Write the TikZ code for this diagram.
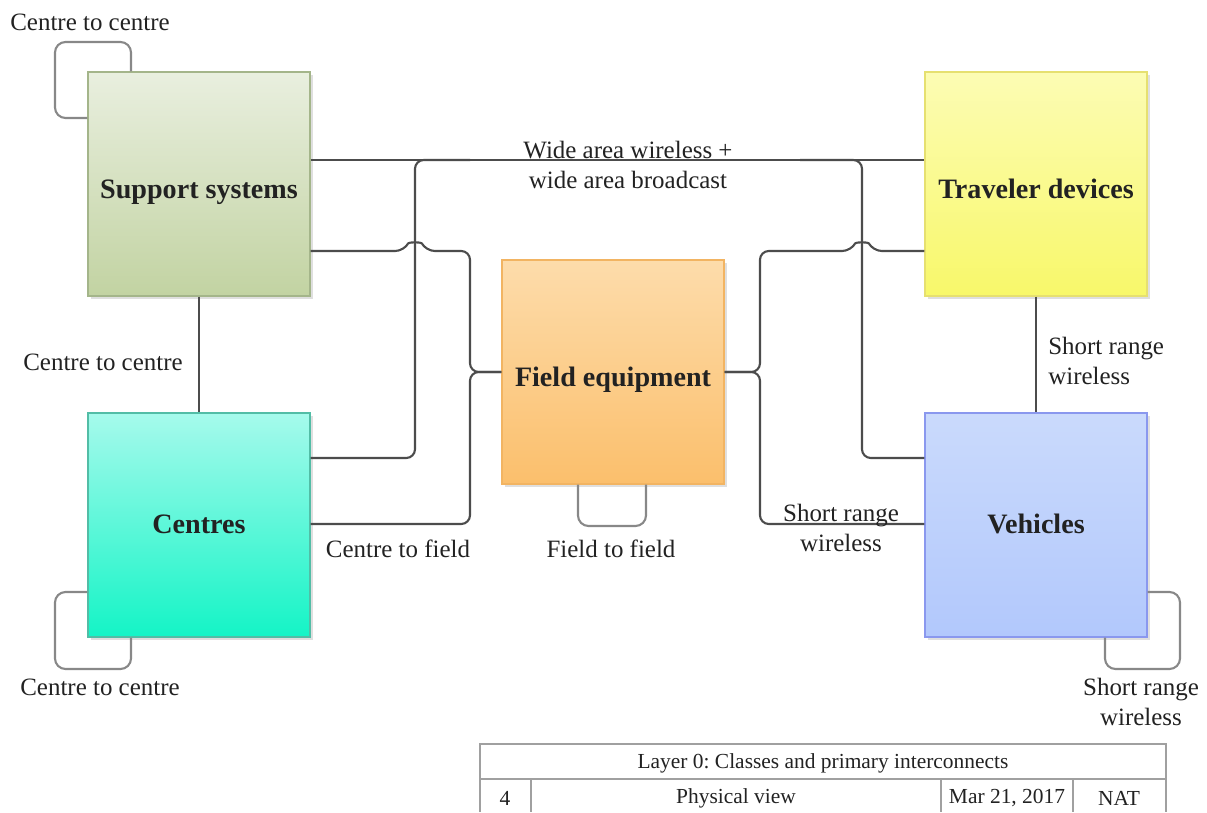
\documentclass[tikz,border=0pt]{standalone}
\usepackage{fontspec}
\setmainfont{Liberation Serif}
\usepackage{tikz}
\usetikzlibrary{positioning,calc,shadows}
\frenchspacing
\definecolor{linkgray}{HTML}{4C4C4C}
\definecolor{loopgray}{HTML}{888888}
\definecolor{tblgray}{HTML}{A0A0A0}
\definecolor{txt}{HTML}{222222}
\definecolor{suptop}{HTML}{E9EFDF}\definecolor{supbot}{HTML}{C2D3A2}\definecolor{supline}{HTML}{A4B58A}
\definecolor{ctrtop}{HTML}{A6FAEC}\definecolor{ctrbot}{HTML}{14F4C6}\definecolor{ctrline}{HTML}{52BDA6}
\definecolor{fldtop}{HTML}{FDDCAB}\definecolor{fldbot}{HTML}{FBBF6C}\definecolor{fldline}{HTML}{F2B462}
\definecolor{trvtop}{HTML}{FCFCB4}\definecolor{trvbot}{HTML}{F8F86A}\definecolor{trvline}{HTML}{E6E070}
\definecolor{vehtop}{HTML}{CADAFC}\definecolor{vehbot}{HTML}{B2C8FC}\definecolor{vehline}{HTML}{8A98EE}
\tikzstyle{box} = [draw, minimum width=4.44cm, minimum height=4.48cm, line width=0.8pt, font=\fontsize{16}{19}\selectfont\bfseries, text=txt, text height=16pt, text depth=0pt, drop shadow={shadow xshift=1.6pt, shadow yshift=-1.6pt, opacity=0.25}]
\tikzstyle{link} = [line width=1.2pt, draw=linkgray, rounded corners=5pt]
\tikzstyle{selfloop} = [line width=1.2pt, draw=loopgray, rounded corners=6pt]

\begin{document}
\begin{tikzpicture}[x=0.02cm, y=-0.02cm,
		lbl/.style = {font=\fontsize{14.2}{17}\selectfont, text=txt, align=center, inner sep=0pt},
		cell/.style = {font=\fontsize{12.2}{14}\selectfont, text=txt, inner sep=0pt},
		]
		\fill[white] (0,0) rectangle (1207,812);
		\useasboundingbox (0,0) rectangle (1207,812);
		% classes
		\node[box, top color=suptop, bottom color=supbot, draw=supline] (sup) at (199,184) {Support systems};
		\node[box, top color=ctrtop, bottom color=ctrbot, draw=ctrline, text height=9.5pt] (ctr) at (199,525) {Centres};
		\node[box, top color=fldtop, bottom color=fldbot, draw=fldline] (fld) at (613,372) {Field equipment};
		\node[box, top color=trvtop, bottom color=trvbot, draw=trvline] (trv) at (1036,184) {Traveler devices};
		\node[box, top color=vehtop, bottom color=vehbot, draw=vehline, text height=9.5pt] (veh) at (1036,525) {Vehicles};
		% interconnects
		\draw[link] (sup.east |- 0,160) -- (trv.west |- 0,160);
		\draw[link] (ctr.east |- 0,458) -- (415,458) -- (415,160) -- (470,160);
		\draw[link] (800,160) -- (862,160) -- (862,458) -- (veh.west |- 0,458);
		\draw[link] (sup.east |- 0,251) -- (404,251) .. controls (409,242) and (421,242) .. (426,251) -- (470,251) -- (470,372) -- (fld.west);
		\draw[link] (ctr.east |- 0,524) -- (470,524) -- (470,372) -- (fld.west);
		\draw[link] (fld.east) -- (760,372) -- (760,251) -- (851,251) .. controls (856,242) and (868,242) .. (873,251) -- (trv.west |- 0,251);
		\draw[link] (fld.east) -- (760,372) -- (760,524) -- (veh.west |- 0,524);
		\draw[link] (sup.south) -- (ctr.north);
		\draw[link] (trv.south) -- (veh.north);
		% loops
		\draw[selfloop] (sup.north -| 131,0) -- (131,42) -- (55,42) -- (55,118) -- (sup.west |- 0,118);
		\draw[selfloop] (ctr.west |- 0,592) -- (55,592) -- (55,669) -- (131,669) -- (ctr.south -| 131,0);
		\draw[selfloop] (fld.south -| 578,0) -- (578,526) -- (646,526) -- (fld.south -| 646,0);
		\draw[selfloop] (veh.east |- 0,592) -- (1180,592) -- (1180,669) -- (1105,669) -- (veh.south -| 1105,0);
		% labels
		\node[lbl] (l1) at (90,22) {Centre to centre};
		\node[lbl] (l2) at (628,165) {Wide area wireless +\\wide area broadcast};
		\node[lbl] (l3) at (103,362) {Centre to centre};
		\node[lbl] (l4) at (398,549) {Centre to field};
		\node[lbl] (l5) at (611,549) {Field to field};
		\node[lbl] (l6) at (841,528) {Short range\\wireless};
		\node[lbl, align=left, anchor=west] (l7) at (1048,361) {Short range\\wireless};
		\node[lbl] (l8) at (100,687) {Centre to centre};
		\node[lbl] (l9) at (1141,702) {Short range\\wireless};
		% title block
		\draw[tblgray, line width=1.2pt] (480,812) -- (480,744) -- (1166,744) -- (1166,812);
		\draw[tblgray, line width=1.2pt] (480,779) -- (1166,779);
		\foreach \cx in {531,941,1073}
		\draw[tblgray, line width=1.2pt] (\cx,779) -- (\cx,812);
		\node[cell] (tlayer) at (823,763) {Layer 0: Classes and primary interconnects};
		\node[cell] (tnum) at (505,798) {4};
		\node[cell] (tview) at (736,798) {Physical view};
		\node[cell] (tdate) at (1007,798) {Mar 21, 2017};
		\node[cell] (tauth) at (1119,798) {NAT};
\end{tikzpicture}
\end{document}
